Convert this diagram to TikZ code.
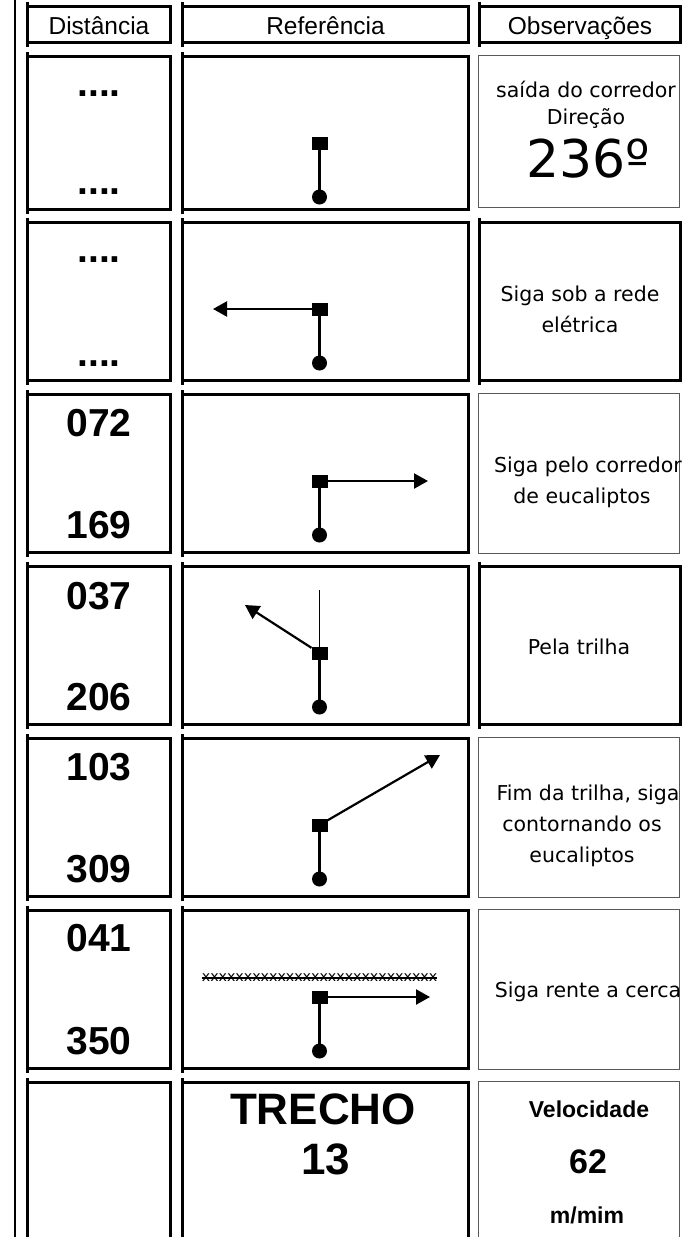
\documentclass[tikz,border=0pt]{standalone}
\usepackage{fontspec}
\setmainfont{Liberation Sans}
\newfontfamily\verd{DejaVu Sans}
\usetikzlibrary{arrows.meta}
\newcommand{\cells}[2]{%
  \draw[thick box] (27.5,#1+1.5) rectangle (170.5,#2-1.5);
  \draw[thick box] (27.5,#1-1.5) -- (27.5,#2+1.5);
  \draw[thick box] (182.5,#1+1.5) rectangle (468.5,#2-1.5);
  \draw[thick box] (182.5,#1-1.5) -- (182.5,#2+1.5);
}
\newcommand{\obsthick}[2]{%
  \draw[thick box] (479.5,#1+1.5) rectangle (680.5,#2-1.5);
  \draw[thick box] (479.5,#1-1.5) -- (479.5,#2+1.5);
}
\newcommand{\obsthin}[2]{%
  \draw[thin box] (478.5,#1+0.5) rectangle (679.5,#2-0.5);
}
\begin{document}
\begin{tikzpicture}[x=1pt,y=-1pt,
  thick box/.style={line width=3pt, line cap=rect},
  thin box/.style={line width=1.2pt, draw=black!65},
  sq/.style={fill=black, minimum width=16pt, minimum height=13pt, inner sep=0pt, outer sep=0pt},
  dot/.style={circle, fill=black, minimum size=15pt, inner sep=0pt, outer sep=0pt},
  stem/.style={line width=2.2pt},
  thinstem/.style={line width=1.4pt},
  arr/.style={line width=2.2pt, -{Triangle[length=14pt,width=15pt]}},
  num/.style={font=\fontsize{39}{39}\selectfont\bfseries, anchor=base, inner sep=0pt},
  hdr/.style={font=\fontsize{24.5}{24.5}\selectfont, anchor=base, inner sep=0pt},
  obs/.style={font=\verd\fontsize{20.5}{20.5}\selectfont, anchor=base, inner sep=0pt},
  obsb/.style={font=\fontsize{23}{23}\selectfont\bfseries, anchor=base, inner sep=0pt},
]
\useasboundingbox (0,0) rectangle (689,1237);
\fill[white] (0,0) rectangle (689,1237);
% left rule
\draw[line width=2.5pt] (15,0) -- (15,1237);

% header
\cells{5}{44}
\obsthick{5}{44}
\node[hdr] (h1) at (99,34) {Distância};
\node[hdr] (h2) at (325.5,34) {Referência};
\node[hdr] (h3) at (580,34) {Observações};

% row 1
\cells{55}{211}
\obsthin{55}{208}
\node[num] (d1a) at (99,96.5) {....};
\node[num] (d1b) at (99,194.5) {....};
\node[sq] (s1) at (319.5,143) {};
\node[dot] (c1) at (319.5,197) {};
\draw[stem] (s1) -- (c1);
\node[obs] (o1a) at (586,97) {saída do corredor};
\node[obs] (o1b) at (586,124) {Direção};
\node[font=\verd\fontsize{52}{52}\selectfont, anchor=base, inner sep=0pt] (o1c) at (588,177) {236º};

% row 2
\cells{221}{382}
\obsthick{221}{382}
\node[num] (d2a) at (99,262.5) {....};
\node[num] (d2b) at (99,366) {....};
\node[sq] (s2) at (319.5,309) {};
\node[dot] (c2) at (319.5,363) {};
\coordinate (t2) at (213,309);
\draw[stem] (s2) -- (c2);
\draw[arr] (s2) -- (t2);
\node[obs] (o2a) at (580,301) {Siga sob a rede};
\node[obs] (o2b) at (580,332) {elétrica};

% row 3
\cells{393}{554}
\obsthin{393}{554}
\node[num] (d3a) at (99,436.5) {072};
\node[num] (d3b) at (99,538.5) {169};
\node[sq] (s3) at (319.5,481) {};
\node[dot] (c3) at (319.5,535) {};
\coordinate (t3) at (428,481);
\draw[stem] (s3) -- (c3);
\draw[arr] (s3) -- (t3);
\node[obs] (o3a) at (588,472) {Siga pelo corredor};
\node[obs] (o3b) at (582,503) {de eucaliptos};

% row 4
\cells{565}{726}
\obsthick{565}{726}
\node[num] (d4a) at (99,609) {037};
\node[num] (d4b) at (99,710.5) {206};
\node[sq] (s4) at (319.5,653) {};
\node[dot] (c4) at (319.5,707) {};
\coordinate (v4) at (319.5,590);
\coordinate (t4) at (245,605);
\draw[thinstem] (v4) -- (s4);
\draw[stem] (s4) -- (c4);
\draw[arr] (s4) -- (t4);
\node[obs] (o4a) at (579,654) {Pela trilha};

% row 5
\cells{737}{898}
\obsthin{737}{898}
\node[num] (d5a) at (99,780.5) {103};
\node[num] (d5b) at (99,882.5) {309};
\node[sq] (s5) at (319.5,825) {};
\node[dot] (c5) at (319.5,879) {};
\coordinate (t5) at (440,755);
\draw[stem] (s5) -- (c5);
\draw[arr] (s5) -- (t5);
\node[obs] (o5a) at (588,800) {Fim da trilha, siga};
\node[obs] (o5b) at (582,831) {contornando os};
\node[obs] (o5c) at (582,862) {eucaliptos};

% row 6
\cells{909}{1070}
\obsthin{909}{1070}
\node[num] (d6a) at (99,951) {041};
\node[num] (d6b) at (99,1054.5) {350};
\node[font=\verd\fontsize{14.2}{14.2}\selectfont, inner sep=0pt] (f6) at (319.5,978) {xxxxxxxxxxxxxxxxxxxxxxxxxxxx};
\draw[line width=1.7pt] (f6.west) -- (f6.east);
\node[sq] (s6) at (319.5,997) {};
\node[dot] (c6) at (319.5,1051) {};
\coordinate (t6) at (430,997);
\draw[stem] (s6) -- (c6);
\draw[arr] (s6) -- (t6);
\node[obs] (o6a) at (588,997) {Siga rente a cerca};

% row 7
\cells{1081}{1248}
\obsthin{1081}{1248}
\node[font=\fontsize{44}{44}\selectfont\bfseries, anchor=base, inner sep=0pt] (r7a) at (323,1124) {TRECHO};
\node[font=\fontsize{44}{44}\selectfont\bfseries, anchor=base, inner sep=0pt] (r7b) at (326,1174) {13};
\node[obsb] (o7a) at (589,1117) {Velocidade};
\node[font=\fontsize{34}{34}\selectfont\bfseries, anchor=base, inner sep=0pt] (o7b) at (588,1173) {62};
\node[obsb] (o7c) at (587,1223) {m/mim};
\end{tikzpicture}
\end{document}
